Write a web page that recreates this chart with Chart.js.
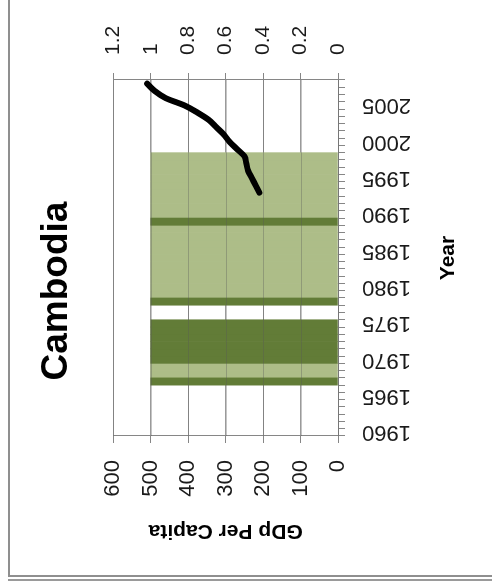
<!DOCTYPE html>
<html>
<head>
<meta charset="utf-8">
<script src="https://cdn.jsdelivr.net/npm/chart.js@4/dist/chart.umd.min.js"></script>
<style>
  html, body { margin: 0; padding: 0; background: #fff; }
  body { width: 492px; height: 582px; position: relative; overflow: hidden; }
  /* chart is laid out landscape, then turned a quarter turn counter-clockwise */
  #wrap {
    position: absolute; left: 0; top: 0;
    width: 582px; height: 492px;
    transform-origin: 0 0;
    transform: translate(0, 582px) rotate(-90deg);
  }
  #frame {
    position: absolute; left: 8px; top: -6px; width: 500px; height: 583px;
    border-left: 2px solid #8f8f8f; border-bottom: 2px solid #8f8f8f;
    box-sizing: border-box; pointer-events: none;
  }
  #frame2 {
    position: absolute; left: 8px; top: 579px; width: 500px; height: 2px;
    background: #9a9a9a;
  }
</style>
</head>
<body>
<div id="wrap"><canvas id="c" width="582" height="492"></canvas></div>
<div id="frame"></div>
<div id="frame2"></div>
<script>
// Years on the category axis
const years = [
  1960, 1961, 1962, 1963, 1964, 1965, 1966, 1967, 1968, 1969,
  1970, 1971, 1972, 1973, 1974, 1975, 1976, 1977, 1978, 1979,
  1980, 1981, 1982, 1983, 1984, 1985, 1986, 1987, 1988, 1989,
  1990, 1991, 1992, 1993, 1994, 1995, 1996, 1997, 1998, 1999,
  2000, 2001, 2002, 2003, 2004, 2005, 2006, 2007, 2008
];

// Period bands (plotted against GDP per capita axis)
const lightBand = [
  null, null, null, null, null, null, null, null, 500, 500,
  null, null, null, null, null, null, null, null, null, 500,
  500, 500, 500, 500, 500, 500, 500, 500, 500, null,
  500, 500, 500, 500, 500, 500, 500, 500, 500, null,
  null, null, null, null, null, null, null, null, null
];
const darkBand = [
  null, null, null, null, null, null, null, 500, null, null,
  500, 500, 500, 500, 500, 500, null, null, 500, null,
  null, null, null, null, null, null, null, null, null, 500,
  null, null, null, null, null, null, null, null, null, null,
  null, null, null, null, null, null, null, null, null
];

// Index series on the secondary axis
const indexLine = [
  null, null, null, null, null, null, null, null, null, null,
  null, null, null, null, null, null, null, null, null, null,
  null, null, null, null, null, null, null, null, null, null,
  null, null, null, 0.42, 0.44, 0.46, 0.48, 0.49, 0.50, 0.54,
  0.58, 0.61, 0.65, 0.69, 0.75, 0.82, 0.92, 0.98, 1.02
];

const gdpTicks = [0, 100, 200, 300, 400, 500, 600];
const indexTicks = [0, 0.2, 0.4, 0.6, 0.8, 1, 1.2];

const axisGray = '#868686';
const gridGray = '#9a9a9a';
const textColor = '#1a1a1a';
const fontFamily = '"Liberation Sans", Arial, sans-serif';

// Lets the GDP gridlines show through the bands: after the band datasets
// are painted, stroke a translucent copy of each gridline, before the line series.
const gridOverBands = {
  id: 'gridOverBands',
  afterDatasetDraw(chart, args) {
    if (args.index !== 1) return;
    const { ctx, chartArea } = chart;
    const y = chart.scales.y;
    ctx.save();
    ctx.strokeStyle = 'rgba(90,90,90,0.35)';
    ctx.lineWidth = 1;
    gdpTicks.forEach(v => {
      const py = Math.round(y.getPixelForValue(v)) + 0.5;
      ctx.beginPath();
      ctx.moveTo(chartArea.left, py);
      ctx.lineTo(chartArea.right, py);
      ctx.stroke();
    });
    ctx.restore();
  }
};

new Chart(document.getElementById('c'), {
  type: 'bar',
  data: {
    labels: years,
    datasets: [
      {
        label: 'Band A',
        data: lightBand,
        backgroundColor: '#adbd88',
        borderWidth: 0,
        barPercentage: 1,
        categoryPercentage: 1,
        grouped: false,
        yAxisID: 'y',
        order: 2
      },
      {
        label: 'Band B',
        data: darkBand,
        backgroundColor: '#627c37',
        borderWidth: 0,
        barPercentage: 1,
        categoryPercentage: 1,
        grouped: false,
        yAxisID: 'y',
        order: 1
      },
      {
        type: 'line',
        label: 'Index',
        data: indexLine,
        borderColor: '#000',
        borderWidth: 6,
        borderCapStyle: 'round',
        borderJoinStyle: 'round',
        pointRadius: 0,
        cubicInterpolationMode: 'monotone',
        spanGaps: false,
        yAxisID: 'y2',
        order: 0
      }
    ]
  },
  plugins: [gridOverBands],
  options: {
    responsive: false,
    animation: false,
    devicePixelRatio: 1,
    layout: { padding: 0 },
    plugins: {
      legend: { display: false },
      tooltip: { enabled: false },
      title: {
        display: true,
        text: 'Cambodia',
        color: '#000',
        font: { family: fontFamily, size: 37, weight: 'bold', lineHeight: 1.2 },
        padding: { top: 35, bottom: 34 }
      }
    },
    scales: {
      x: {
        type: 'category',
        offset: true,
        grid: {
          offset: true,
          drawOnChartArea: false,
          drawTicks: true,
          tickLength: 7,
          color: axisGray,
          lineWidth: 1
        },
        border: { color: axisGray, width: 1 },
        ticks: {
          autoSkip: false,
          minRotation: 90,
          maxRotation: 90,
          padding: 17,
          color: textColor,
          font: { family: fontFamily, size: 22 },
          callback: function (value, index) {
            const yr = years[index];
            return yr % 5 === 0 ? String(yr) : '';
          }
        },
        title: {
          display: true,
          text: 'Year',
          color: '#000',
          font: { family: fontFamily, size: 21, weight: 'bold' },
          padding: { top: 0, bottom: 31 }
        },
        afterFit: function (scale) { scale.height = 154; }
      },
      y: {
        position: 'left',
        min: 0,
        max: 600,
        afterBuildTicks: function (scale) {
          scale.ticks = gdpTicks.map(v => ({ value: v }));
        },
        grid: {
          color: gridGray,
          tickColor: axisGray,
          tickLength: 7,
          lineWidth: 1
        },
        border: { color: axisGray, width: 1 },
        ticks: {
          padding: 17,
          color: textColor,
          font: { family: fontFamily, size: 22 }
        },
        title: {
          display: true,
          text: 'GDp Per Capita',
          color: '#000',
          font: { family: fontFamily, size: 21, weight: 'bold' },
          padding: { top: 39, bottom: 0 }
        },
        afterFit: function (scale) { scale.width = 146; }
      },
      y2: {
        position: 'right',
        min: 0,
        max: 1.2,
        afterBuildTicks: function (scale) {
          scale.ticks = indexTicks.map(v => ({ value: v }));
        },
        grid: {
          drawOnChartArea: false,
          color: axisGray,
          tickLength: 7,
          lineWidth: 1
        },
        border: { color: axisGray, width: 1 },
        ticks: {
          padding: 18,
          color: textColor,
          font: { family: fontFamily, size: 21 },
          callback: function (value) { return String(Number(value.toFixed(1))); }
        },
        afterFit: function (scale) { scale.width = 80; }
      }
    }
  }
});
</script>
</body>
</html>
